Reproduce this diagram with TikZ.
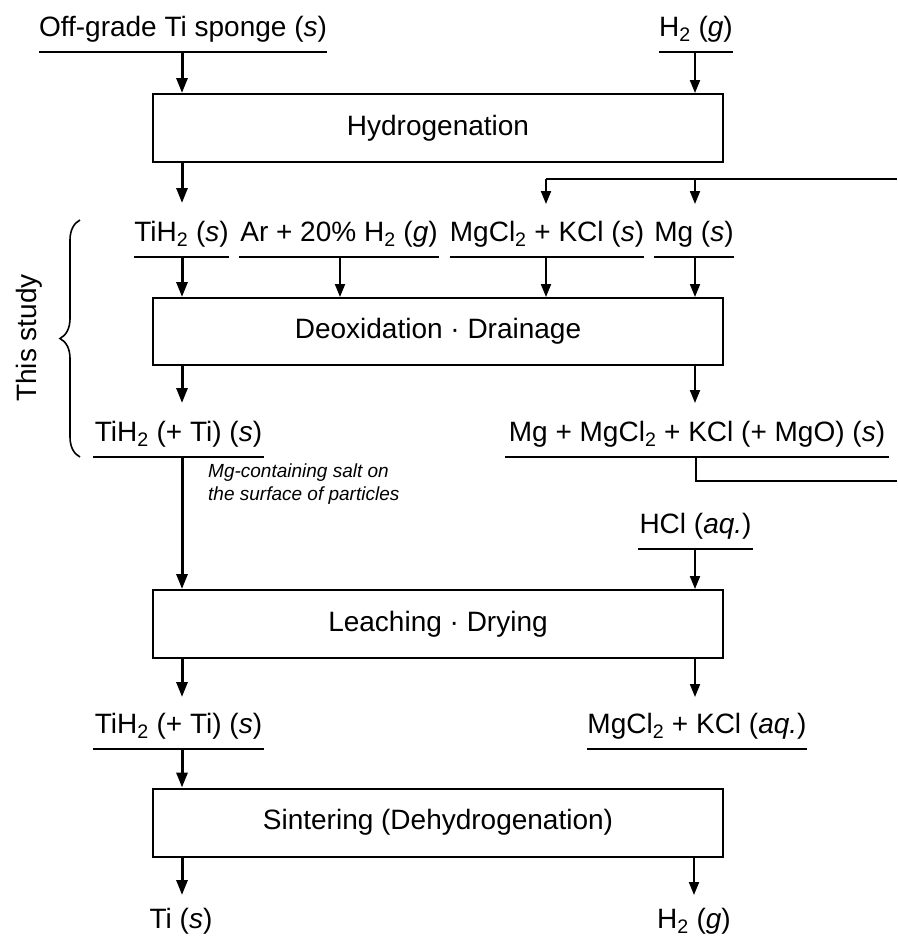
\documentclass[tikz,border=0pt]{standalone}
\usepackage{fontspec}
\setmainfont{Liberation Sans}
\usetikzlibrary{arrows.meta,decorations.pathreplacing}
\begin{document}
\begin{tikzpicture}[x=1pt,y=-1pt,
  font=\fontsize{28pt}{33pt}\selectfont,
  lbl/.style={inner sep=0pt, text height=21pt, text depth=15pt, anchor=south},
  plain/.style={inner sep=0pt, anchor=base},
  uline/.style={line width=2pt},
  procbox/.style={draw, line width=2pt, minimum width=570pt, minimum height=68pt, inner sep=0pt},
  thickarr/.style={line width=3pt, -{Triangle[length=15pt,width=11pt]}},
  thinarr/.style={line width=2pt, -{Triangle[length=13pt,width=10pt]}},
  fbline/.style={line width=2pt},
  note/.style={inner sep=0pt, anchor=base west, font=\itshape\fontsize{19pt}{23pt}\selectfont}
]
\useasboundingbox (0,0) rectangle (897,945);

% process boxes
\node[procbox] (hyd) at (438,128) {Hydrogenation};
\node[procbox, minimum height=67pt] (deox) at (438,331.5) {Deoxidation · Drainage};
\node[procbox] (leach) at (438,624) {Leaching · Drying};
\node[procbox] (sint) at (438,822.5) {Sintering (Dehydrogenation)};

% labels with underlines
\node[lbl, minimum width=288pt] (off) at (183,52) {Off-grade Ti sponge (\textit{s})};
\node[lbl, minimum width=74pt] (h2in) at (696,52) {H\textsubscript{2} (\textit{g})};
\node[lbl, minimum width=93pt] (tih2) at (181.5,257) {TiH\textsubscript{2} (\textit{s})};
\node[lbl, minimum width=200pt] (ar) at (339,257) {Ar + 20\% H\textsubscript{2} (\textit{g})};
\node[lbl, minimum width=194pt] (mgcl) at (547,257) {MgCl\textsubscript{2} + KCl (\textit{s})};
\node[lbl, minimum width=80pt] (mg) at (694,257) {Mg (\textit{s})};
\node[lbl, minimum width=171pt] (tih2b) at (178.5,457) {TiH\textsubscript{2} (+ Ti) (\textit{s})};
\node[lbl, minimum width=384pt] (mgmix) at (697,457) {Mg + MgCl\textsubscript{2} + KCl (+ MgO) (\textit{s})};
\node[lbl, minimum width=115pt] (hcl) at (695.5,549) {HCl (\textit{aq.})};
\node[lbl, minimum width=171pt] (tih2c) at (178.5,749) {TiH\textsubscript{2} (+ Ti) (\textit{s})};
\node[lbl, minimum width=220pt] (mgaq) at (697,749) {MgCl\textsubscript{2} + KCl (\textit{aq.})};
\node[plain] (ti) at (181,928) {Ti (\textit{s})};
\node[plain] (h2out) at (694,928) {H\textsubscript{2} (\textit{g})};

\foreach \n in {off,h2in,tih2,ar,mgcl,mg,tih2b,mgmix,hcl,tih2c,mgaq}
  \draw[uline] (\n.south west) -- (\n.south east);

% annotation
\node[note] (note1) at (208,477) {Mg-containing salt on};
\node[note] (note2) at (208,500) {the surface of particles};

% brace and side label
\coordinate (brB) at (80,457);
\coordinate (brT) at (80,220);
\draw[line width=1.6pt, decorate, decoration={brace, amplitude=20pt}] (brB) -- (brT);
\node[plain, rotate=90] (study) at (36,338) {This study};

% free-end coordinates
\coordinate (e1) at (182,203);
\coordinate (e2) at (546,204);
\coordinate (e3) at (695,204);
\coordinate (e4) at (182,403);
\coordinate (e5) at (695,403);
\coordinate (e6) at (182,697);
\coordinate (e7) at (695,697);
\coordinate (e8) at (182,895);
\coordinate (e9) at (694,895);
\coordinate (fbTopR) at (897,179);
\coordinate (fbTopL) at (546,179);
\coordinate (fbTopM) at (695,179);
\coordinate (fbBotC) at (696,481);
\coordinate (fbBotR) at (897,481);

% left (main) arrows
\draw[thickarr] (off.south -| e1) -- (hyd.north -| e1);
\draw[thickarr] (hyd.south -| e1) -- (e1);
\draw[thickarr] (tih2.south -| e1) -- (deox.north -| e1);
\draw[thickarr] (deox.south -| e1) -- (e4);
\draw[thickarr] (tih2b.south -| e1) -- (leach.north -| e1);
\draw[thickarr] (leach.south -| e1) -- (e6);
\draw[thickarr] (tih2c.south -| e1) -- (sint.north -| e1);
\draw[thickarr] (sint.south -| e8) -- (e8);

% other arrows
\draw[thinarr] (h2in.south -| e3) -- (hyd.north -| e3);
\draw[thinarr] (ar.south -| 340,0) -- (deox.north -| 340,0);
\draw[thinarr] (mgcl.south -| e2) -- (deox.north -| e2);
\draw[thinarr] (mg.south -| e3) -- (deox.north -| e3);
\draw[thinarr] (deox.south -| e5) -- (e5);
\draw[thinarr] (hcl.south -| e7) -- (leach.north -| e7);
\draw[thinarr] (leach.south -| e7) -- (e7);
\draw[thinarr] (sint.south -| e9) -- (e9);

% recycle line
\draw[fbline] (mgmix.south -| fbBotC) -- (fbBotC) -- (fbBotR);
\draw[fbline] (fbTopR) -- (fbTopL);
\draw[thinarr] (fbTopL) -- (e2);
\draw[thinarr] (fbTopM) -- (e3);
\end{tikzpicture}
\end{document}
